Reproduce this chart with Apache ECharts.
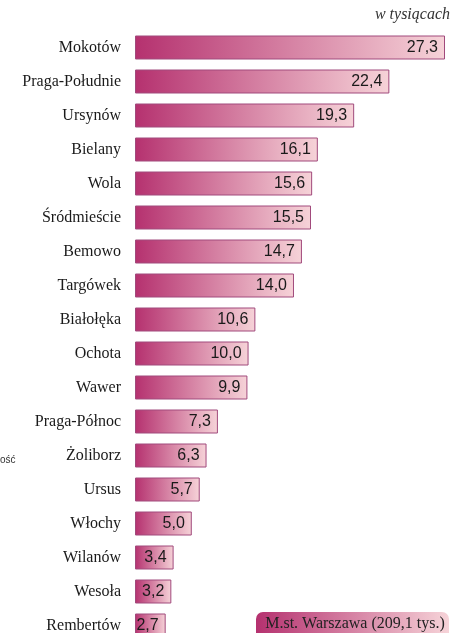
<!DOCTYPE html>
<html><head><meta charset="utf-8">
<script src="https://cdn.jsdelivr.net/npm/echarts@6/dist/echarts.min.js"></script>
<style>html,body{margin:0;padding:0;background:#fff}#c{width:452px;height:633px}</style>
</head><body><div id="c"></div>
<script>
const categories = ['Mokotów','Praga-Południe','Ursynów','Bielany','Wola','Śródmieście','Bemowo','Targówek','Białołęka','Ochota','Wawer','Praga-Północ','Żoliborz','Ursus','Włochy','Wilanów','Wesoła','Rembertów'];
const values = [27.3,22.4,19.3,16.1,15.6,15.5,14.7,14.0,10.6,10.0,9.9,7.3,6.3,5.7,5.0,3.4,3.2,2.7];
const unitLabel = 'w tysiącach';
const totalLabel = 'M.st. Warszawa (209,1 tys.)';
const sideFragment = 'ość';

const grad = () => new echarts.graphic.LinearGradient(0,0,1,0,[{offset:0,color:'#b5316f'},{offset:1,color:'#f6d3d8'}]);
const chart = echarts.init(document.getElementById('c'));
chart.setOption({
  animation:false,
  textStyle:{fontFamily:'Liberation Serif'},
  grid:{left:135,width:310,top:30.5,height:612,containLabel:false,outerBoundsMode:'none'},
  xAxis:{type:'value',min:0,max:27.3,show:false},
  yAxis:{type:'category',data:categories,inverse:true,
    axisLine:{show:false},axisTick:{show:false},
    axisLabel:{margin:14,color:'#1a1a1a',fontFamily:'serif',fontSize:16,
      formatter:v=>'{s|'+v+'}',
      rich:{s:{fontFamily:'Liberation Serif',fontSize:16,color:'#1a1a1a'}}}},
  series:[{type:'bar',data:values,barWidth:24,
    itemStyle:{color:grad(),borderColor:'#a14a7c',borderWidth:1},
    label:{show:true,position:'insideRight',distance:7,color:'#1a1a1a',fontFamily:'Liberation Sans',fontSize:16,
      formatter:p=>p.value.toFixed(1).replace('.',',')}}],
  graphic:[
    {type:'text',right:2,top:7,style:{text:unitLabel,font:'italic 16px "Liberation Serif"',fill:'#333'}},
    {type:'text',left:0,top:455,style:{text:sideFragment,font:'10px "Liberation Sans"',fill:'#333'}},
    {type:'rect',shape:{x:256,y:612,width:193,height:34,r:7},style:{fill:grad()}},
    {type:'text',x:355,y:624,style:{text:totalLabel,font:'16px "Liberation Serif"',fill:'#222',align:'center',verticalAlign:'middle'}}
  ]
});
</script></body></html>
